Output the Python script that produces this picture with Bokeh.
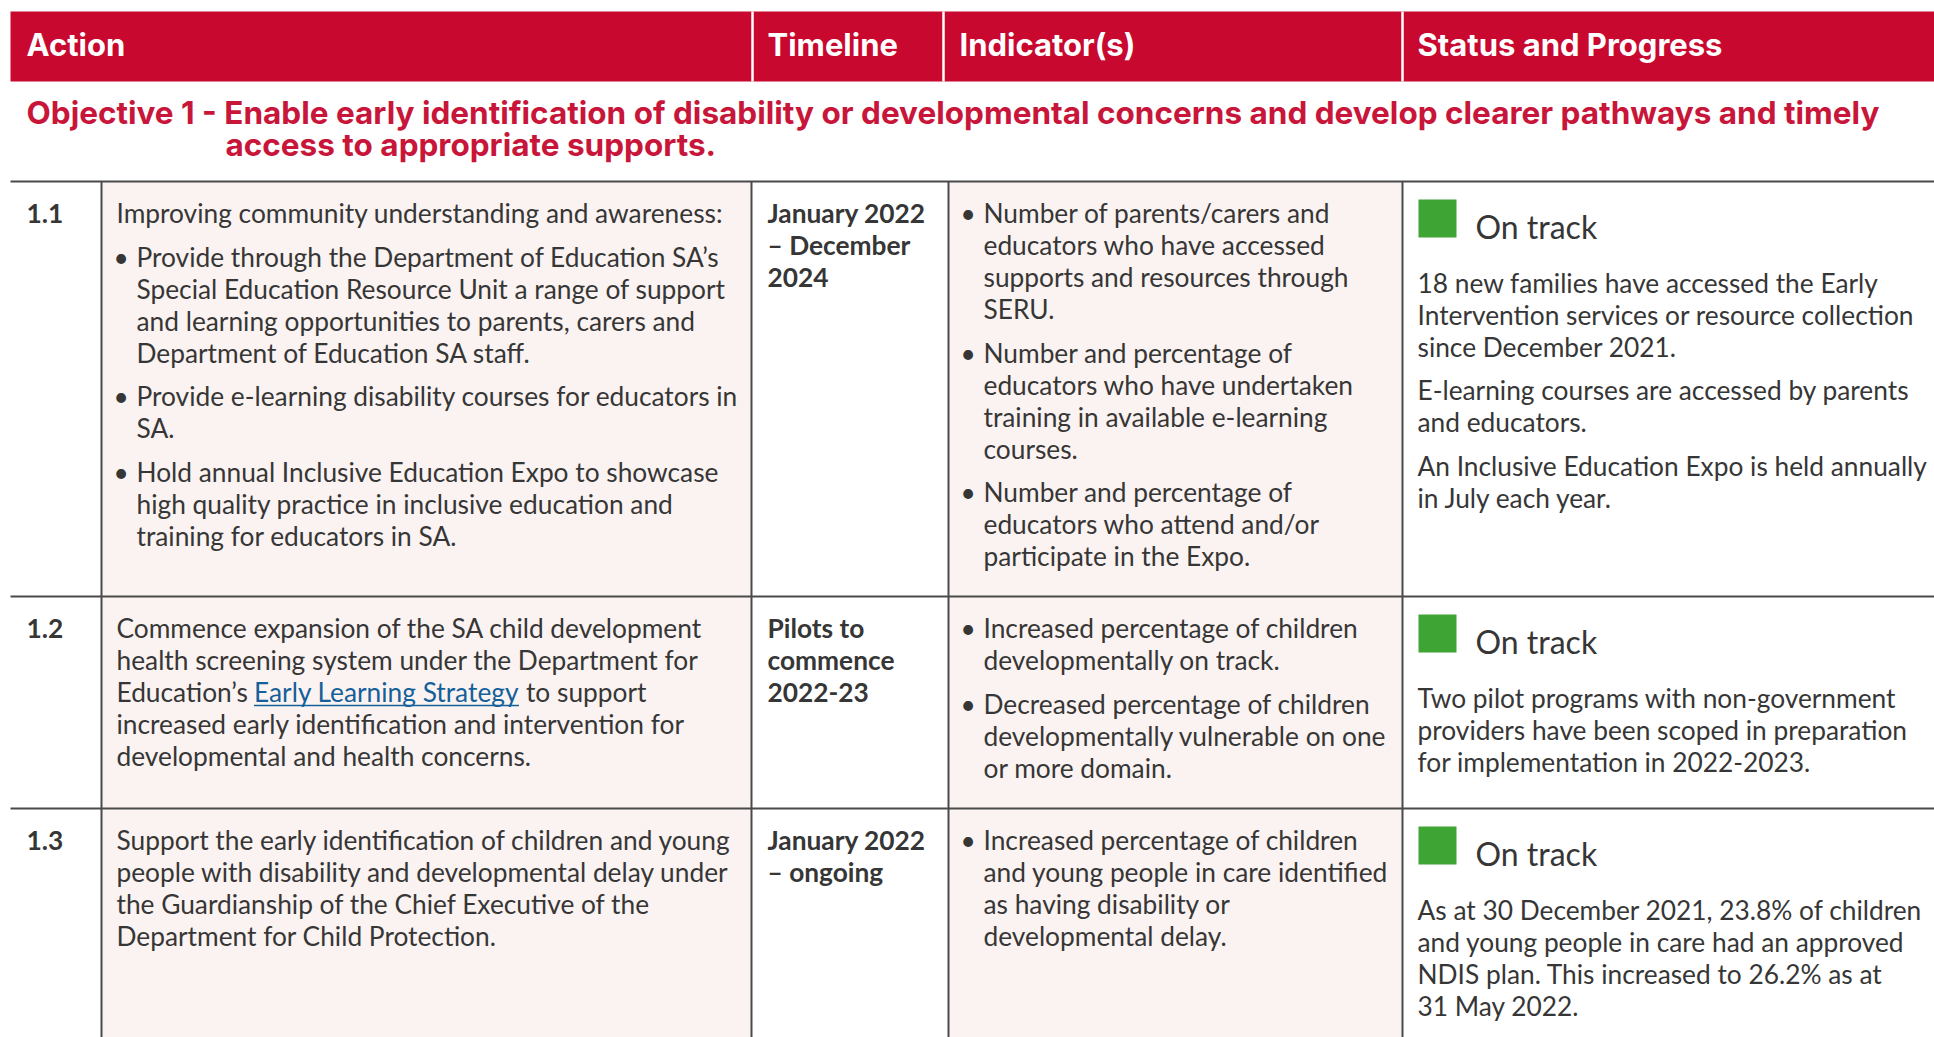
from bokeh.plotting import figure
from bokeh.models import Range1d
from bokeh.embed import file_html
from bokeh.resources import INLINE
from bokeh.core.properties import value

# ---------------- data ----------------
headers = ["Action", "Timeline", "Indicator(s)", "Status and Progress"]
objective_lines = [
    "Objective 1 - Enable early identification of disability or developmental concerns and develop clearer pathways and timely",
    "access to appropriate supports.",
]
row_ids = ["1.1", "1.2", "1.3"]

# each paragraph: (is_bullet, [lines])
action_paras = [
    [(False, ["Improving community understanding and awareness:"]),
     (True, ["Provide through the Department of Education SA\u2019s",
             "Special Education Resource Unit a range of support",
             "and learning opportunities to parents, carers and",
             "Department of Education SA staff."]),
     (True, ["Provide e-learning disability courses for educators in",
             "SA."]),
     (True, ["Hold annual Inclusive Education Expo to showcase",
             "high quality practice in inclusive education and",
             "training for educators in SA."])],
    [(False, ["Commence expansion of the SA child development",
              "health screening system under the Department for",
              "Education\u2019s |Early Learning Strategy| to support",
              "increased early identification and intervention for",
              "developmental and health concerns."])],
    [(False, ["Support the early identification of children and young",
              "people with disability and developmental delay under",
              "the Guardianship of the Chief Executive of the",
              "Department for Child Protection."])],
]

timelines = [
    ["January 2022", "\u2013 December", "2024"],
    ["Pilots to", "commence", "2022-23"],
    ["January 2022", "\u2013 ongoing"],
]

indicator_paras = [
    [["Number of parents/carers and", "educators who have accessed",
      "supports and resources through", "SERU."],
     ["Number and percentage of", "educators who have undertaken",
      "training in available e-learning", "courses."],
     ["Number and percentage of", "educators who attend and/or",
      "participate in the Expo."]],
    [["Increased percentage of children", "developmentally on track."],
     ["Decreased percentage of children", "developmentally vulnerable on one",
      "or more domain."]],
    [["Increased percentage of children", "and young people in care identified",
      "as having disability or", "developmental delay."]],
]

status_labels = ["On track", "On track", "On track"]
status_paras = [
    [["18 new families have accessed the Early",
      "Intervention services or resource collection",
      "since December 2021."],
     ["E-learning courses are accessed by parents", "and educators."],
     ["An Inclusive Education Expo is held annually", "in July each year."]],
    [["Two pilot programs with non-government",
      "providers have been scoped in preparation",
      "for implementation in 2022-2023."]],
    [["As at 30 December 2021, 23.8% of children",
      "and young people in care had an approved",
      "NDIS plan. This increased to 26.2% as at",
      "31 May 2022."]],
]

# ---------------- layout / style ----------------
W, H = 1934, 1037
RED = "#C8082F"
OBJ_RED = "#C8163A"
PINK = "#FBF3F1"
LINE = "#4A4A4A"
TXT = "#363636"
GREEN = "#3EA434"
LINK = "#14609A"
FONT = "Lato"
HFONT = "Inter"

TABLE_L, TABLE_R = 10, 1940
HEAD_T, HEAD_B = 11, 81
COL_X = [10, 101, 751, 948, 1402]          # body column boundaries
HEAD_SEP = [752, 943, 1402]
HEAD_TEXT_X = [26, 767, 959, 1417]
ROW_TOPS = [181, 596, 808, 1040]
LH = 32.0
GAP = 11.5
BS = 26.3           # body font size (px)
HS = 31             # header font size
OS = 31.5           # objective font size
SS = 32             # status label font size
DY = 0.37           # correction of the renderer's baseline placement (fraction of font size)


def by(y, size):
    return y - DY * size


p = figure(width=W, height=H, x_range=Range1d(0, W), y_range=Range1d(H, 0),
           output_backend="svg", toolbar_location=None, x_axis_type=None, y_axis_type=None,
           min_border=0, tools="")
p.grid.visible = False
p.outline_line_color = None
p.background_fill_color = "white"
p.border_fill_color = "white"

# header band
p.quad(left=[TABLE_L], right=[TABLE_R], top=[HEAD_T], bottom=[HEAD_B], fill_color=RED, line_color=None)
p.segment(x0=HEAD_SEP, x1=HEAD_SEP, y0=[HEAD_T] * 3, y1=[HEAD_B] * 3, line_color="white", line_width=2.5)
p.text(x=HEAD_TEXT_X, y=[by(55.5, HS)] * 4, text=headers, text_font=value(HFONT), text_font_style="bold",
       text_font_size=f"{HS}px", text_color="white", text_baseline="alphabetic", text_align="left")

# objective
p.text(x=[26, 225], y=[by(123.5, OS), by(156, OS)], text=objective_lines, text_font=value(HFONT),
       text_font_style="bold", text_font_size=f"{OS}px", text_color=OBJ_RED,
       text_baseline="alphabetic", text_align="left")

# pink backgrounds
n = len(row_ids)
p.quad(left=[COL_X[1]] * n + [COL_X[3]] * n, right=[COL_X[2]] * n + [COL_X[4]] * n,
       top=ROW_TOPS[:n] * 2, bottom=ROW_TOPS[1:n + 1] * 2, fill_color=PINK, line_color=None)

# grid lines
p.segment(x0=[TABLE_L] * n, x1=[TABLE_R] * n, y0=ROW_TOPS[:n], y1=ROW_TOPS[:n], line_color=LINE, line_width=2.2)
p.segment(x0=COL_X[1:], x1=COL_X[1:], y0=[ROW_TOPS[0]] * 4, y1=[ROW_TOPS[-1]] * 4, line_color=LINE, line_width=2)

# collect body text
reg = dict(x=[], y=[], t=[], c=[])
bold = dict(x=[], y=[], t=[])
link_segments = []


def add_paras(paras, col_left, y0):
    y = y0
    for k, (is_bullet, lines) in enumerate(paras):
        if k > 0:
            y += GAP
        x_text = col_left + (35 if is_bullet else 15)
        for j, line in enumerate(lines):
            if is_bullet and j == 0:
                reg["x"].append(col_left + 12); reg["y"].append(by(y, BS)); reg["t"].append("\u2022"); reg["c"].append(TXT)
            if "|" in line:
                a, b, c = line.split("|")
                reg["x"] += [x_text, x_text + 137.5, x_text + 409.5]
                reg["y"] += [by(y, BS)] * 3
                reg["t"] += [a, b, c]
                reg["c"] += [TXT, LINK, TXT]
                link_segments.append((x_text + 137.5, x_text + 137.5 + 265, y + 3.5))
            else:
                reg["x"].append(x_text); reg["y"].append(by(y, BS)); reg["t"].append(line); reg["c"].append(TXT)
            y += LH


for i in range(n):
    top = ROW_TOPS[i]
    base = top + 41.5
    bold["x"].append(26); bold["y"].append(by(base, BS)); bold["t"].append(row_ids[i])
    add_paras(action_paras[i], COL_X[1], base)
    for j, line in enumerate(timelines[i]):
        bold["x"].append(767); bold["y"].append(by(base + j * LH, BS)); bold["t"].append(line)
    add_paras([(True, para) for para in indicator_paras[i]], COL_X[3], base)
    add_paras([(False, para) for para in status_paras[i]], COL_X[4], top + 111)

p.text(x=reg["x"], y=reg["y"], text=reg["t"], text_color=reg["c"], text_font=value(FONT),
       text_font_size=f"{BS}px", text_baseline="alphabetic", text_align="left")
p.text(x=bold["x"], y=bold["y"], text=bold["t"], text_color=TXT, text_font=value(FONT),
       text_font_style="bold", text_font_size=f"{BS}px", text_baseline="alphabetic", text_align="left")

# link underline
p.segment(x0=[s[0] for s in link_segments], x1=[s[1] for s in link_segments],
          y0=[s[2] for s in link_segments], y1=[s[2] for s in link_segments], line_color=LINK, line_width=1.5)

# status squares + labels
tops = ROW_TOPS[:n]
p.quad(left=[1418] * n, right=[1456] * n, top=[t + 18 for t in tops], bottom=[t + 56 for t in tops],
       fill_color=GREEN, line_color=None)
p.text(x=[1475] * n, y=[by(t + 56.5, SS) for t in tops], text=status_labels, text_color=TXT,
       text_font=value(FONT), text_font_size=f"{SS}px", text_baseline="alphabetic", text_align="left")

open("out.html", "w").write(file_html(p, INLINE))
